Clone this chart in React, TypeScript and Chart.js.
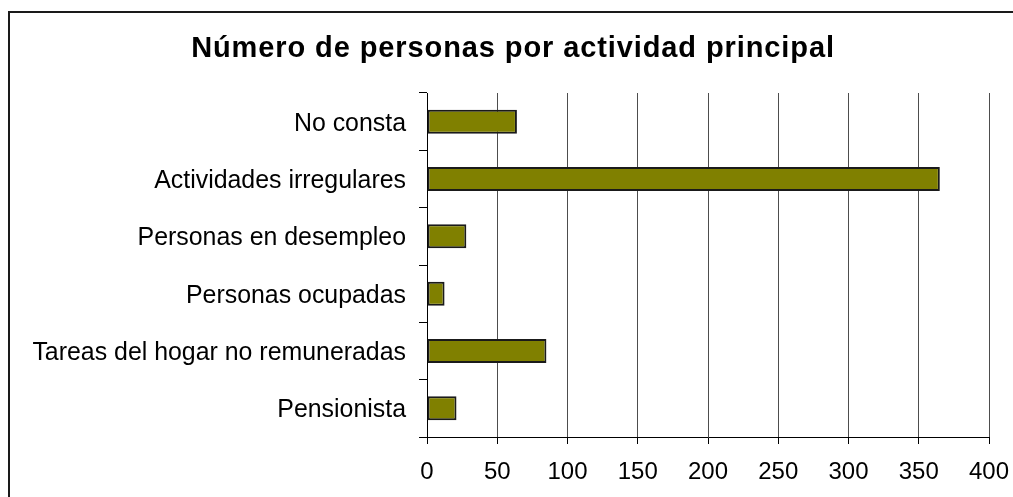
import React, { useEffect, useRef } from "react";
import { Chart, registerables } from "chart.js";

Chart.register(...registerables);

const TITLE = "Número de personas por actividad principal";
const categories = [
  "No consta",
  "Actividades irregulares",
  "Personas en desempleo",
  "Personas ocupadas",
  "Tareas del hogar no remuneradas",
  "Pensionista",
];
const values = [64, 365, 28, 12.5, 85, 21];
const xMin = 0;
const xMax = 400;
const xStep = 50;

const FONT = "'Liberation Sans', Arial, sans-serif";

const frame = {
  id: "frame",
  beforeDraw(chart: any) {
    const ctx = chart.ctx;
    ctx.save();
    ctx.fillStyle = "#ffffff";
    ctx.fillRect(0, 0, chart.width, chart.height);
    ctx.strokeStyle = "#1a1a1a";
    ctx.lineWidth = 2;
    ctx.strokeRect(9, 12, chart.width + 20, chart.height + 20);
    ctx.restore();
  },
  afterDraw(chart: any) {
    const ctx = chart.ctx;
    ctx.save();
    ctx.fillStyle = "#000";
    ctx.font = `bold 29px ${FONT}`;
    (ctx as any).letterSpacing = "0.9px";
    ctx.textAlign = "center";
    ctx.textBaseline = "alphabetic";
    ctx.fillText(TITLE, 513, 56.5);
    ctx.restore();
  },
};

export default function App() {
  const ref = useRef<HTMLCanvasElement>(null);
  useEffect(() => {
    if (!ref.current) return;
    const chart = new Chart(ref.current, {
      type: "bar",
      data: {
        labels: categories,
        datasets: [
          {
            data: values,
            backgroundColor: "#808000",
            borderColor: "#1a1a1a",
            borderWidth: 2,
            borderSkipped: false,
            barPercentage: 0.42,
            categoryPercentage: 1,
          },
        ],
      },
      plugins: [frame],
      options: {
        indexAxis: "y",
        animation: false,
        responsive: false,
        devicePixelRatio: 1,
        layout: { padding: { left: 9, top: 93, right: 24, bottom: 0 } },
        plugins: {
          legend: { display: false },
          tooltip: { enabled: false },
          title: { display: false },
        },
        scales: {
          x: {
            type: "linear",
            min: xMin,
            max: xMax,
            ticks: {
              stepSize: xStep,
              color: "#000",
              font: { family: FONT, size: 24 },
              padding: 14,
              maxRotation: 0,
            },
            grid: {
              color: "#4d4d4d",
              tickColor: "#000",
              tickLength: 7,
              lineWidth: 1,
            },
            border: { color: "#000", width: 1 },
            afterFit(scale: any) {
              scale.height = 60;
              scale.paddingLeft = 0;
              scale.paddingRight = 0;
            },
          },
          y: {
            type: "category",
            ticks: {
              color: "#000",
              font: { family: FONT, size: 24.9 },
              padding: 13,
              labelOffset: 2,
            },
            grid: {
              drawOnChartArea: false,
              drawTicks: true,
              tickLength: 8,
              tickColor: "#000",
              offset: true,
            },
            border: { color: "#000", width: 1 },
            afterFit(scale: any) {
              scale.width = 418;
              scale.paddingTop = 0;
              scale.paddingBottom = 0;
            },
          },
        },
      },
    });
    return () => chart.destroy();
  }, []);
  return (
    <div
      style={{
        position: "fixed",
        left: 0,
        top: 0,
        width: 1013,
        height: 497,
        background: "#fff",
      }}
    >
      <canvas ref={ref} width={1013} height={497} style={{ width: 1013, height: 497, display: "block" }} />
    </div>
  );
}
